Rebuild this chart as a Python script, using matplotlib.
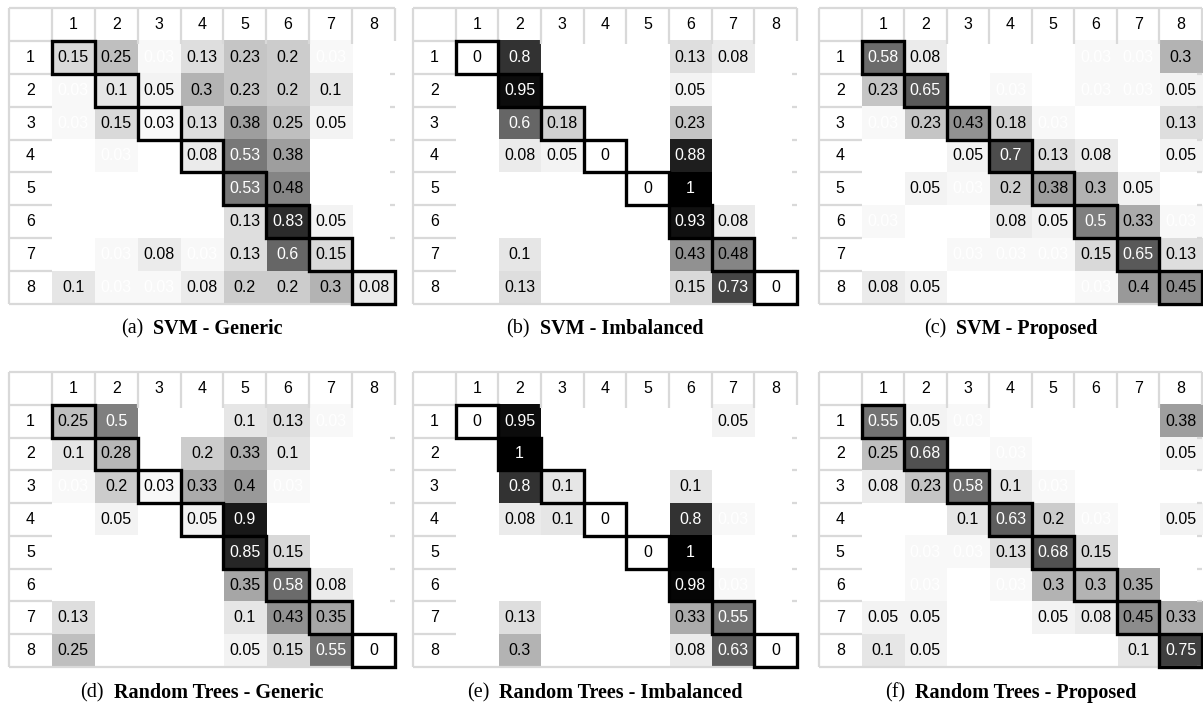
import numpy as np
import matplotlib
matplotlib.use('Agg')
import matplotlib.pyplot as plt
from matplotlib.patches import Rectangle

classes = ['1', '2', '3', '4', '5', '6', '7', '8']

svm_generic = [
    [0.15, 0.25, 0.03, 0.13, 0.23, 0.2, 0.03, 0],
    [0.03, 0.1, 0.05, 0.3, 0.23, 0.2, 0.1, 0],
    [0.03, 0.15, 0.03, 0.13, 0.38, 0.25, 0.05, 0],
    [0, 0.03, 0, 0.08, 0.53, 0.38, 0, 0],
    [0, 0, 0, 0, 0.53, 0.48, 0, 0],
    [0, 0, 0, 0, 0.13, 0.83, 0.05, 0],
    [0, 0.03, 0.08, 0.03, 0.13, 0.6, 0.15, 0],
    [0.1, 0.03, 0.03, 0.08, 0.2, 0.2, 0.3, 0.08],
]
svm_imbalanced = [
    [0, 0.8, 0, 0, 0, 0.13, 0.08, 0],
    [0, 0.95, 0, 0, 0, 0.05, 0, 0],
    [0, 0.6, 0.18, 0, 0, 0.23, 0, 0],
    [0, 0.08, 0.05, 0, 0, 0.88, 0, 0],
    [0, 0, 0, 0, 0, 1, 0, 0],
    [0, 0, 0, 0, 0, 0.93, 0.08, 0],
    [0, 0.1, 0, 0, 0, 0.43, 0.48, 0],
    [0, 0.13, 0, 0, 0, 0.15, 0.73, 0],
]
svm_proposed = [
    [0.58, 0.08, 0, 0, 0, 0.03, 0.03, 0.3],
    [0.23, 0.65, 0, 0.03, 0, 0.03, 0.03, 0.05],
    [0.03, 0.23, 0.43, 0.18, 0.03, 0, 0, 0.13],
    [0, 0, 0.05, 0.7, 0.13, 0.08, 0, 0.05],
    [0, 0.05, 0.03, 0.2, 0.38, 0.3, 0.05, 0],
    [0.03, 0, 0, 0.08, 0.05, 0.5, 0.33, 0.03],
    [0, 0, 0.03, 0.03, 0.03, 0.15, 0.65, 0.13],
    [0.08, 0.05, 0, 0, 0, 0.03, 0.4, 0.45],
]
rt_generic = [
    [0.25, 0.5, 0, 0, 0.1, 0.13, 0.03, 0],
    [0.1, 0.28, 0, 0.2, 0.33, 0.1, 0, 0],
    [0.03, 0.2, 0.03, 0.33, 0.4, 0.03, 0, 0],
    [0, 0.05, 0, 0.05, 0.9, 0, 0, 0],
    [0, 0, 0, 0, 0.85, 0.15, 0, 0],
    [0, 0, 0, 0, 0.35, 0.58, 0.08, 0],
    [0.13, 0, 0, 0, 0.1, 0.43, 0.35, 0],
    [0.25, 0, 0, 0, 0.05, 0.15, 0.55, 0],
]
rt_imbalanced = [
    [0, 0.95, 0, 0, 0, 0, 0.05, 0],
    [0, 1, 0, 0, 0, 0, 0, 0],
    [0, 0.8, 0.1, 0, 0, 0.1, 0, 0],
    [0, 0.08, 0.1, 0, 0, 0.8, 0.03, 0],
    [0, 0, 0, 0, 0, 1, 0, 0],
    [0, 0, 0, 0, 0, 0.98, 0.03, 0],
    [0, 0.13, 0, 0, 0, 0.33, 0.55, 0],
    [0, 0.3, 0, 0, 0, 0.08, 0.63, 0],
]
rt_proposed = [
    [0.55, 0.05, 0.03, 0, 0, 0, 0, 0.38],
    [0.25, 0.68, 0, 0.03, 0, 0, 0, 0.05],
    [0.08, 0.23, 0.58, 0.1, 0.03, 0, 0, 0],
    [0, 0, 0.1, 0.63, 0.2, 0.03, 0, 0.05],
    [0, 0.03, 0.03, 0.13, 0.68, 0.15, 0, 0],
    [0, 0.03, 0, 0.03, 0.3, 0.3, 0.35, 0],
    [0.05, 0.05, 0, 0, 0.05, 0.08, 0.45, 0.33],
    [0.1, 0.05, 0, 0, 0, 0, 0.1, 0.75],
]

tags = ['(a)', '(b)', '(c)', '(d)', '(e)', '(f)']
titles = ['SVM - Generic', 'SVM - Imbalanced', 'SVM - Proposed',
          'Random Trees - Generic', 'Random Trees - Imbalanced', 'Random Trees - Proposed']
matrices = [svm_generic, svm_imbalanced, svm_proposed,
            rt_generic, rt_imbalanced, rt_proposed]

W, H = 1203, 704
fig = plt.figure(figsize=(W / 100, H / 100), dpi=100)

# panel boxes in pixels (left, top, width, height)
lefts = [9, 413, 819]
widths = [386, 384, 383]
tops = [8, 372]
heights = [296, 295]
cap_y = [329, 693]

grid_c = '#d9d9d9'
caps = []

for k, m in enumerate(matrices):
    r, c = divmod(k, 3)
    x0, w = lefts[c], widths[c]
    y0, h = tops[r], heights[r]
    ax = fig.add_axes([x0 / W, 1 - (y0 + h) / H, w / W, h / H])
    ax.set_xlim(0, 9)
    ax.set_ylim(9, 0)
    ax.axis('off')

    vals = np.array(m, dtype=float)
    n = len(classes)
    diag = np.eye(n, dtype=bool)
    shown = np.ma.masked_where((vals == 0) & ~diag, vals)
    ax.imshow(shown, cmap='gray_r', vmin=0, vmax=1, extent=(1, 9, 9, 1),
              aspect='auto', interpolation='nearest', zorder=1)

    for i in range(n):
        for j in range(n):
            v = vals[i, j]
            if v == 0 and i != j:
                continue
            faint = 0 < v <= 0.03 and i != j
            col = 'white' if (v >= 0.5 or faint) else 'black'
            ax.text(j + 1.5, i + 1.5, f'{v:g}', ha='center', va='center',
                    fontsize=11.5, family='Liberation Sans', color=col, zorder=3)

    # header texts
    for j, lab in enumerate(classes):
        ax.text(j + 1.5, 0.5, lab, ha='center', va='center',
                fontsize=11.5, family='Liberation Sans', zorder=3)
        ax.text(0.5, j + 1.5, lab, ha='center', va='center',
                fontsize=11.5, family='Liberation Sans', zorder=3)

    # light grey header lines
    lk = dict(color=grid_c, lw=1.6, clip_on=False, zorder=2, solid_capstyle='butt')
    ax.plot([0, 9], [0, 0], **lk)
    ax.plot([0, 9], [9, 9], **lk)
    ax.plot([0, 0], [0, 9], **lk)
    ax.plot([9, 9], [0, 1], **lk)
    for j in range(1, 9):
        ax.plot([j, j], [0, 1.1], **lk)
        ax.plot([0, 1], [j, j], **lk)
        ax.plot([8.88, 9], [j + 1, j + 1], **lk)

    # diagonal highlight boxes
    for i in range(n):
        ax.add_patch(Rectangle((i + 1, i + 1), 1, 1, fill=False, ec='black',
                               lw=2.4, clip_on=False, zorder=4))

    cx = (x0 + w / 2) / W
    cy = 1 - cap_y[r] / H
    t1 = fig.text(cx, cy, tags[k], ha='left', va='center', fontsize=14.5,
                  family='Liberation Serif')
    t2 = fig.text(cx, cy, titles[k], ha='left', va='center', fontsize=14.5,
                  family='Liberation Serif', weight='bold')
    caps.append((t1, t2, x0 + w / 2))

fig.canvas.draw()
rend = fig.canvas.get_renderer()
gap = 10
for t1, t2, cpx in caps:
    w1 = t1.get_window_extent(rend).width
    w2 = t2.get_window_extent(rend).width
    start = cpx - (w1 + gap + w2) / 2
    t1.set_x(start / W)
    t2.set_x((start + w1 + gap) / W)

fig.savefig('out.png', dpi=100)
